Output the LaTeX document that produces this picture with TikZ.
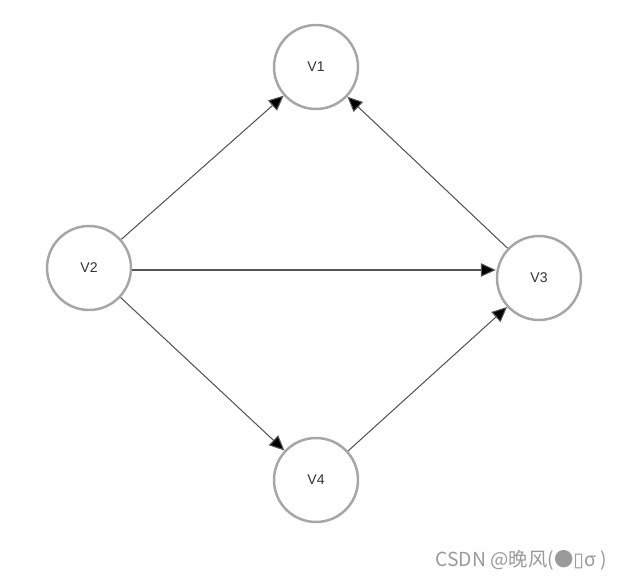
\documentclass[tikz,border=0pt]{standalone}
\usepackage{fontspec}
\setmainfont{Liberation Sans}
\newfontfamily\cjk{Noto Sans CJK SC}
\newfontfamily\symfont{DejaVu Sans}
\usetikzlibrary{arrows.meta}
\definecolor{ringgray}{HTML}{A6A6A6}
\definecolor{edgegray}{HTML}{555555}
\definecolor{labelgray}{HTML}{333333}
\definecolor{markgray}{HTML}{9A9A9A}
\begin{document}
\begin{tikzpicture}[vertex/.style = {circle,draw=ringgray,line width=1.4pt,fill=white,
                        minimum size=1.68cm,inner sep=0pt,text=labelgray,font=\fontsize{8}{9}\selectfont},
                    edge/.style = {draw=edgegray,line width=0.6pt,
                        -{Triangle[length=0.3cm,width=0.27cm,fill=black]}}]
                \useasboundingbox (0,0) rectangle (12.42,11.58);

                \node[vertex] (V1) at (6.32,10.24) {V1};
                \node[vertex] (V2) at (1.78,6.22)  {V2};
                \node[vertex] (V3) at (10.78,6.02) {V3};
                \node[vertex] (V4) at (6.32,1.98)  {V4};

                \draw[edge] (V2) -- (V1);
                \draw[edge] (V3) -- (V1);
                \draw[edge] ([yshift=-0.04cm]V2.east) -- ([yshift=-0.04cm]V2.east -| V3.west);
                \draw[edge] (V2) -- (V4);
                \draw[edge] (V4) -- (V3);

                \node[anchor=base east,text=markgray,inner sep=0pt,font=\fontsize{11}{13}\selectfont]
                    (mark) at (12.14,0.26) {\cjk CSDN @晚风(●{\symfont ▯}σ )};
            \end{tikzpicture}
\end{document}
